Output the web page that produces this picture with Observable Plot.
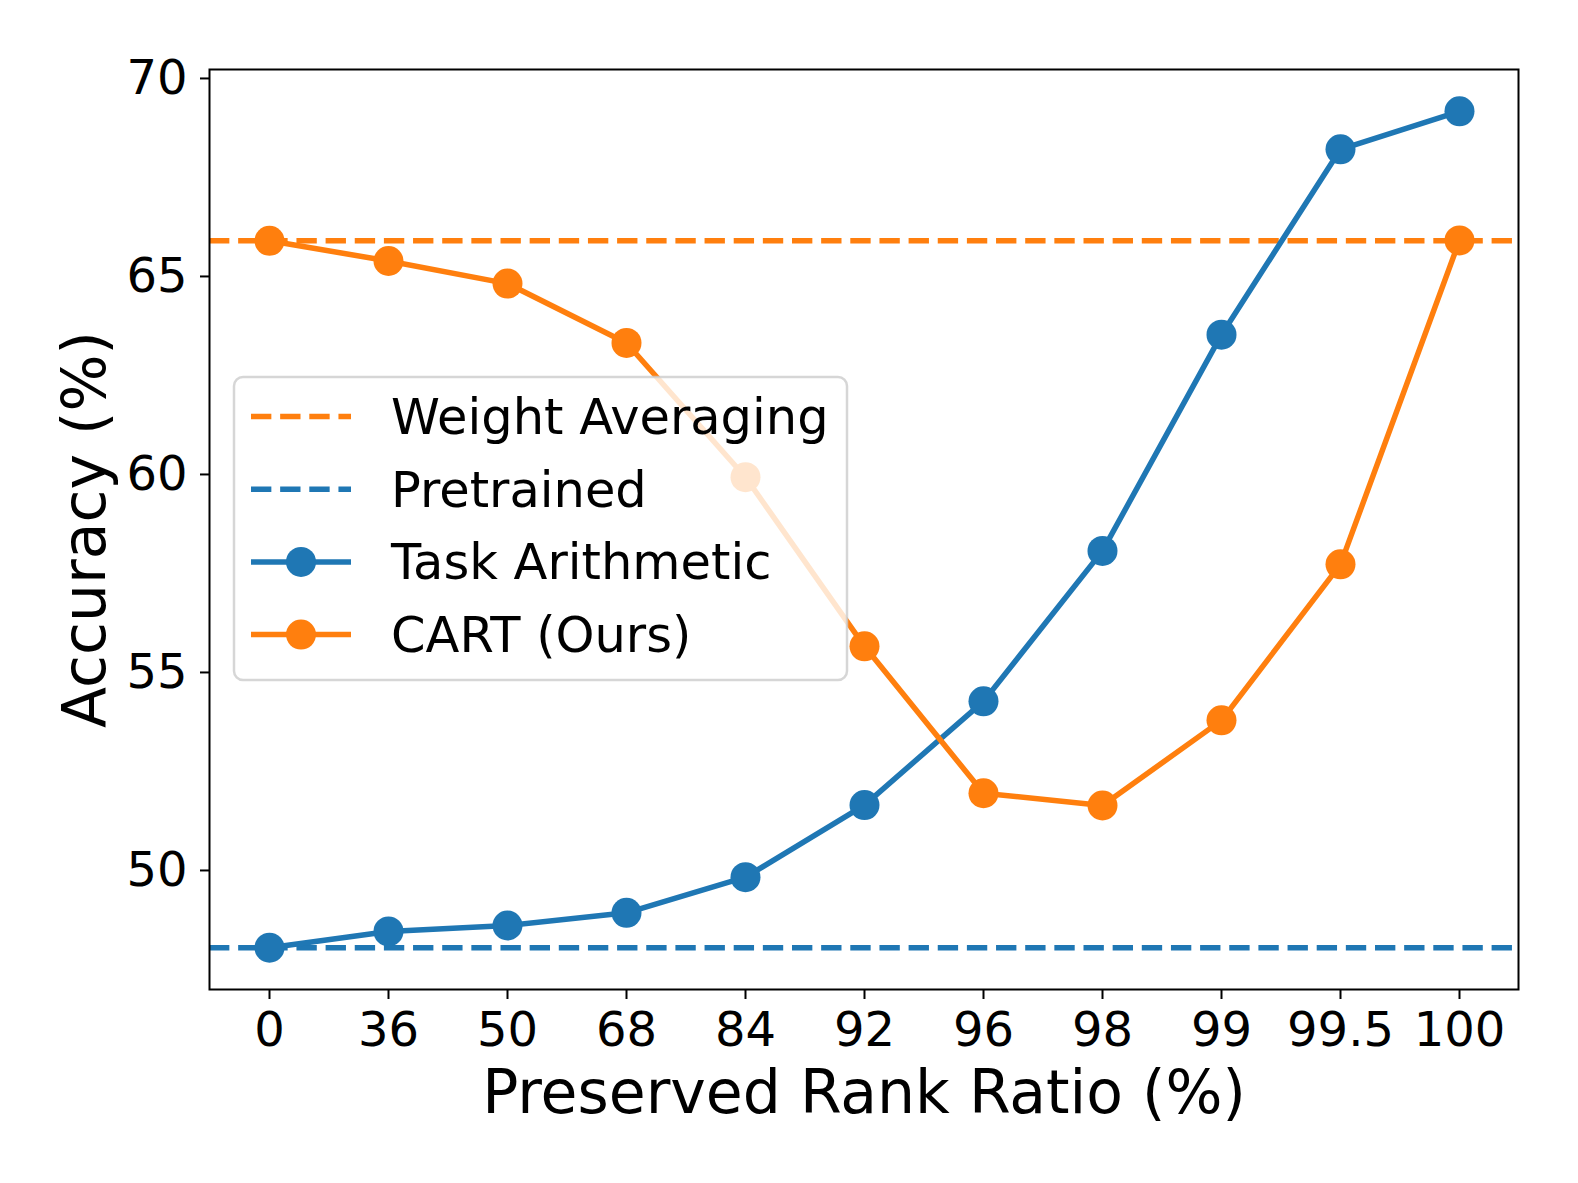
<!DOCTYPE html>
<html>
<head>
<meta charset="utf-8">
<script src="https://cdn.jsdelivr.net/npm/d3@7"></script>
<script src="https://cdn.jsdelivr.net/npm/@observablehq/plot@0.6"></script>
<style>
html, body { margin: 0; padding: 0; background: #fff; }
#chart { width: 1578px; height: 1183px; }
</style>
</head>
<body>
<div id="chart"></div>
<script>
// ---- data ----
const ratios = ["0", "36", "50", "68", "84", "92", "96", "98", "99", "99.5", "100"];
const taskArithmetic = [48.05, 48.46, 48.61, 48.93, 49.83, 51.65, 54.27, 58.07, 63.53, 68.21, 69.17];
const cart = [65.90, 65.39, 64.82, 63.32, 59.93, 55.66, 51.95, 51.64, 53.79, 57.73, 65.91];
const weightAveraging = 65.90;
const pretrained = 48.05;
const yTicks = [50, 55, 60, 65, 70];
const xLabel = "Preserved Rank Ratio (%)";
const yLabel = "Accuracy (%)";

const BLUE = "#1f77b4";
const ORANGE = "#ff7f0e";
const DASH = "20.35 8.8";
const LW = 5.5;

const taData = ratios.map((r, i) => ({ratio: r, acc: taskArithmetic[i]}));
const cartData = ratios.map((r, i) => ({ratio: r, acc: cart[i]}));

// matplotlib-like 5% y margins
const allY = [...taskArithmetic, ...cart, weightAveraging, pretrained];
const yMin = d3.min(allY), yMax = d3.max(allY);
const yPad = 0.05 * (yMax - yMin);

const plot = Plot.plot({
  width: 1578,
  height: 1183,
  marginLeft: 209,
  marginRight: 60,
  marginTop: 69,
  marginBottom: 194,
  style: {fontFamily: "DejaVu Sans", background: "white", color: "black", overflow: "visible"},
  x: {type: "point", domain: ratios, padding: 0.5},
  y: {domain: [yMin - yPad, yMax + yPad]},
  marks: [
    Plot.ruleY([weightAveraging], {stroke: ORANGE, strokeWidth: LW, strokeDasharray: DASH}),
    Plot.ruleY([pretrained], {stroke: BLUE, strokeWidth: LW, strokeDasharray: DASH}),
    Plot.line(taData, {x: "ratio", y: "acc", stroke: BLUE, strokeWidth: LW}),
    Plot.dot(taData, {x: "ratio", y: "acc", r: 15, fill: BLUE, stroke: "none"}),
    Plot.line(cartData, {x: "ratio", y: "acc", stroke: ORANGE, strokeWidth: LW}),
    Plot.dot(cartData, {x: "ratio", y: "acc", r: 15, fill: ORANGE, stroke: "none"}),
    Plot.axisX({tickSize: 10, tickPadding: 12, fontSize: 48, strokeWidth: 2, label: null}),
    Plot.axisY({ticks: yTicks, tickSize: 9, tickPadding: 13, fontSize: 48, strokeWidth: 2, label: null}),
    Plot.frame({stroke: "black", strokeWidth: 2}),
    Plot.text([xLabel], {text: d => d, frameAnchor: "bottom", dy: 104, fontSize: 60, lineAnchor: "middle", textAnchor: "middle"}),
    Plot.text([yLabel], {text: d => d, frameAnchor: "left", rotate: -90, dx: -124, fontSize: 60, lineAnchor: "middle", textAnchor: "middle"})
  ]
});

// ---- legend (matplotlib-style, drawn over the lines) ----
const legendItems = [
  {name: "Weight Averaging", color: ORANGE, dashed: true, marker: false},
  {name: "Pretrained", color: BLUE, dashed: true, marker: false},
  {name: "Task Arithmetic", color: BLUE, dashed: false, marker: true},
  {name: "CART (Ours)", color: ORANGE, dashed: false, marker: true}
];
const svg = d3.select(plot);
const lg = svg.append("g").attr("font-family", "DejaVu Sans").attr("text-anchor", "start");
lg.append("rect")
  .attr("x", 234).attr("y", 377).attr("width", 613).attr("height", 303).attr("rx", 9)
  .attr("fill", "white").attr("fill-opacity", 0.8)
  .attr("stroke", "#cccccc").attr("stroke-opacity", 0.8).attr("stroke-width", 2.5);
legendItems.forEach((it, i) => {
  const base = 434 + i * 72.7;
  const hy = base - 17.5;
  const line = lg.append("line")
    .attr("x1", 251).attr("x2", 351).attr("y1", hy).attr("y2", hy)
    .attr("stroke", it.color).attr("stroke-width", LW);
  if (it.dashed) line.attr("stroke-dasharray", DASH);
  if (it.marker) lg.append("circle").attr("cx", 301).attr("cy", hy).attr("r", 15).attr("fill", it.color);
  lg.append("text").attr("x", 391).attr("y", base).attr("font-size", 49.5)
    .attr("fill", "black").attr("text-anchor", "start").text(it.name);
});

document.getElementById("chart").appendChild(plot);
</script>
</body>
</html>
